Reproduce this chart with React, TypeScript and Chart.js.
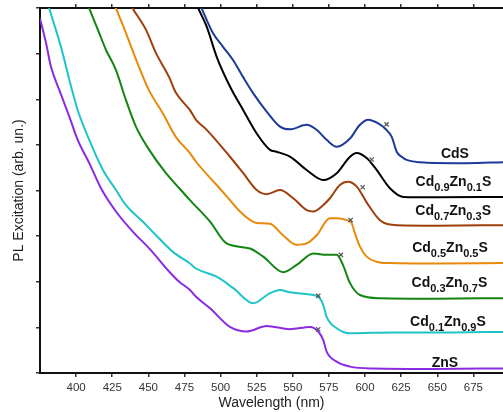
import React, { useEffect, useRef } from 'react';
import { Chart, registerables } from 'chart.js';

Chart.register(...registerables);

const FONT = '"Liberation Sans", Arial, Helvetica, sans-serif';

const xTicks = [400, 425, 450, 475, 500, 525, 550, 575, 600, 625, 650, 675];
const yTicks = [0, 1, 2, 3, 4, 5, 6, 7, 8];
const xMin = 375;
const xMax = 695.5;

// CdS
const cdsWl = [482, 486.9, 494.7, 501.7, 508.6, 515.5, 522.4, 531.9, 541.1, 548.0, 559.6, 566.5, 573.4, 580.4, 589.6, 596.5, 602.2, 609.1, 613.8, 618.4, 621.9, 625.3, 628.8, 642.6, 670, 696];
const cdsVal = [8.35, 7.99, 7.45, 7.15, 6.86, 6.49, 6.14, 5.73, 5.40, 5.34, 5.44, 5.33, 5.11, 4.96, 5.14, 5.44, 5.55, 5.47, 5.36, 5.18, 4.85, 4.74, 4.67, 4.61, 4.60, 4.62];

// Cd0.9Zn0.1S
const cd09Wl = [480, 484.6, 490.4, 497.3, 506.5, 515.7, 525.0, 534.2, 538.8, 548.0, 559.6, 571.1, 580.4, 589.6, 594.2, 601.1, 608.0, 617.2, 626.5, 650, 696];
const cd09Val = [8.35, 7.99, 7.59, 6.93, 6.28, 5.76, 5.25, 4.89, 4.85, 4.74, 4.45, 4.23, 4.38, 4.74, 4.82, 4.71, 4.45, 4.05, 3.86, 3.85, 3.86];

// Cd0.7Zn0.3S
const cd07Wl = [434, 439.2, 448.4, 455.3, 464.3, 469.1, 478.8, 483.0, 490.4, 506.5, 515.7, 525.0, 531.9, 541.1, 550.3, 559.6, 564.2, 571.1, 575.7, 582.6, 588.2, 594.4, 601.3, 610.3, 622.1, 650, 696];
const cd07Val = [8.3, 7.99, 7.52, 7.01, 6.49, 6.14, 5.76, 5.55, 5.33, 4.74, 4.38, 4.01, 3.92, 4.01, 3.83, 3.57, 3.54, 3.68, 3.83, 4.12, 4.19, 4.08, 3.73, 3.35, 3.24, 3.23, 3.24];

// Cd0.5Zn0.5S
const cd05Wl = [422, 427.6, 434.5, 443.5, 450.4, 459.9, 469.1, 478.8, 483.0, 497.3, 506.5, 513.4, 525.0, 534.2, 543.2, 552.7, 559.6, 566.5, 575.7, 580.4, 587.3, 590.8, 593.0, 596.5, 601.1, 608.0, 617.2, 650, 696];
const cd05Val = [8.4, 7.99, 7.45, 6.71, 6.20, 5.70, 5.17, 4.82, 4.63, 4.12, 3.79, 3.54, 3.29, 3.27, 3.02, 2.81, 2.84, 3.02, 3.39, 3.39, 3.35, 3.28, 3.06, 2.77, 2.55, 2.44, 2.41, 2.40, 2.41];

// Cd0.3Zn0.7S
const cd03Wl = [402, 409.1, 416.0, 420.7, 427.6, 434.5, 441.4, 450.6, 462.2, 471.4, 478.8, 492.7, 504.2, 520.3, 529.5, 543.4, 552.7, 564.2, 573.4, 580.4, 584.7, 589.6, 596.5, 610.3, 650, 696];
const cd03Val = [8.55, 7.99, 7.45, 7.08, 6.64, 5.98, 5.40, 4.89, 4.38, 4.05, 3.79, 3.32, 2.84, 2.73, 2.55, 2.21, 2.37, 2.62, 2.59, 2.59, 2.37, 1.97, 1.71, 1.64, 1.63, 1.64];

// Cd0.1Zn0.9S
const cd01Wl = [375, 381.4, 389.5, 396.5, 401.1, 409.1, 418.4, 427.6, 434.5, 446.1, 455.3, 466.8, 478.8, 483.0, 497.3, 508.8, 522.6, 534.2, 541.1, 548.0, 561.9, 567.6, 571.1, 573.4, 580.4, 589.6, 620, 660, 696];
const cd01Val = [8.67, 7.99, 7.15, 6.28, 5.76, 5.11, 4.46, 4.01, 3.68, 3.32, 3.02, 2.66, 2.40, 2.29, 2.11, 1.86, 1.53, 1.75, 1.82, 1.77, 1.72, 1.67, 1.49, 1.23, 0.98, 0.87, 0.89, 0.89, 0.90];

// ZnS
const znsWl = [375, 379.2, 382.6, 388.4, 395.3, 401.1, 409.1, 417.2, 427.6, 439.2, 450.6, 464.5, 471.4, 478.8, 483.0, 492.7, 506.5, 518.1, 531.9, 548.0, 561.9, 567.6, 571.1, 573.4, 580.4, 589.6, 605.7, 650, 696];
const znsVal = [7.77, 7.23, 6.71, 6.20, 5.62, 5.11, 4.60, 4.05, 3.54, 3.10, 2.73, 2.22, 2.00, 1.82, 1.67, 1.42, 1.01, 0.91, 1.03, 0.96, 1.01, 0.91, 0.72, 0.47, 0.25, 0.14, 0.10, 0.09, 0.10];

// "x" markers
const markWl = [614.9, 604.6, 598.4, 590.0, 583.3, 567.6, 567.6];
const markVal = [5.45, 4.68, 4.07, 3.35, 2.59, 1.69, 0.96];

// Series labels
const labelText = ['CdS', 'Cd_{0.9}Zn_{0.1}S', 'Cd_{0.7}Zn_{0.3}S', 'Cd_{0.5}Zn_{0.5}S', 'Cd_{0.3}Zn_{0.7}S', 'Cd_{0.1}Zn_{0.9}S', 'ZnS'];
const labelWl = [662.2, 661.2, 661.0, 658.8, 658.4, 657.4, 655.3];
const labelVal = [4.83, 4.20, 3.58, 2.77, 2.00, 1.14, 0.245];

const seriesNames = ['CdS', 'Cd0.9Zn0.1S', 'Cd0.7Zn0.3S', 'Cd0.5Zn0.5S', 'Cd0.3Zn0.7S', 'Cd0.1Zn0.9S', 'ZnS'];
const seriesWl = [cdsWl, cd09Wl, cd07Wl, cd05Wl, cd03Wl, cd01Wl, znsWl];
const seriesVal = [cdsVal, cd09Val, cd07Val, cd05Val, cd03Val, cd01Val, znsVal];
const seriesColors = ['#1c3a97', '#000000', '#9e3f0c', '#e8890c', '#128512', '#1ec4c6', '#8a2be2'];

const MAIN_FONT = `bold 14px ${FONT}`;
const SUB_FONT = `bold 11px ${FONT}`;

function parseLabel(s: string) {
  const parts: { t: string; sub: boolean }[] = [];
  const re = /_\{([^}]*)\}|([^_]+)/g;
  let m: RegExpExecArray | null;
  while ((m = re.exec(s)) !== null) {
    if (m[1] !== undefined) parts.push({ t: m[1], sub: true });
    else parts.push({ t: m[2], sub: false });
  }
  return parts;
}

const labelPlugin = {
  id: 'seriesLabels',
  afterDatasetsDraw(chart: any) {
    const { ctx } = chart;
    const x = chart.scales.x;
    const y = chart.scales.y;
    ctx.save();
    ctx.fillStyle = '#111';
    ctx.textBaseline = 'alphabetic';
    ctx.textAlign = 'left';
    labelText.forEach((txt, i) => {
      const parts = parseLabel(txt);
      let total = 0;
      const widths = parts.map((p) => {
        ctx.font = p.sub ? SUB_FONT : MAIN_FONT;
        const w = ctx.measureText(p.t).width;
        total += w;
        return w;
      });
      let cx = x.getPixelForValue(labelWl[i]) - total / 2;
      const base = y.getPixelForValue(labelVal[i]) + 5;
      parts.forEach((p, k) => {
        ctx.font = p.sub ? SUB_FONT : MAIN_FONT;
        ctx.fillText(p.t, cx, p.sub ? base + 5 : base);
        cx += widths[k];
      });
    });
    ctx.restore();
  },
};

export default function App() {
  const ref = useRef<HTMLCanvasElement | null>(null);

  useEffect(() => {
    if (!ref.current) return;
    const gridCfg = {
      display: true,
      drawOnChartArea: false,
      drawTicks: true,
      tickLength: 4,
      color: '#333',
      lineWidth: 1.5,
    };
    const borderCfg = { display: true, color: '#111', width: 2 };

    const lineSets = seriesNames.map((name, i) => ({
      type: 'line' as const,
      label: name,
      data: seriesWl[i].map((w, k) => ({ x: w, y: seriesVal[i][k] })),
      borderColor: seriesColors[i],
      backgroundColor: seriesColors[i],
      borderWidth: 2,
      pointRadius: 0,
      fill: false,
      cubicInterpolationMode: 'monotone' as const,
      xAxisID: 'x',
      yAxisID: 'y',
    }));

    const markerSet = {
      type: 'line' as const,
      label: 'markers',
      data: markWl.map((w, k) => ({ x: w, y: markVal[k] })),
      showLine: false,
      pointStyle: 'crossRot' as const,
      pointRadius: 3,
      borderColor: '#555',
      backgroundColor: '#555',
      pointBorderWidth: 1.2,
      borderWidth: 1.2,
      xAxisID: 'x',
      yAxisID: 'y',
    };

    const zeroPad = (s: any) => {
      s.paddingLeft = 0;
      s.paddingRight = 0;
      s.paddingTop = 0;
      s.paddingBottom = 0;
    };

    const chart = new Chart(ref.current, {
      type: 'line',
      data: { datasets: [markerSet, ...lineSets] as any },
      options: {
        responsive: false,
        animation: false,
        maintainAspectRatio: false,
        layout: { padding: 0, autoPadding: false },
        plugins: { legend: { display: false }, tooltip: { enabled: false } },
        scales: {
          x: {
            type: 'linear',
            position: 'bottom',
            min: xMin,
            max: xMax,
            afterBuildTicks: (s: any) => {
              s.ticks = xTicks.map((v) => ({ value: v }));
            },
            afterFit: (s: any) => {
              s.height = 39;
              zeroPad(s);
            },
            ticks: {
              color: '#333',
              font: { family: FONT, size: 11.5 },
              padding: 4,
              maxRotation: 0,
              autoSkip: false,
            },
            grid: gridCfg,
            border: borderCfg,
            title: {
              display: true,
              text: 'Wavelength (nm)',
              color: '#222',
              font: { family: FONT, size: 14 },
              padding: { top: 0, bottom: 0 },
            },
          },
          x2: {
            type: 'linear',
            position: 'top',
            min: xMin,
            max: xMax,
            afterBuildTicks: (s: any) => {
              s.ticks = xTicks.map((v) => ({ value: v }));
            },
            afterFit: (s: any) => {
              s.height = 8;
              zeroPad(s);
            },
            ticks: { display: false },
            grid: gridCfg,
            border: borderCfg,
          },
          y: {
            type: 'linear',
            position: 'left',
            min: 0,
            max: 8,
            afterBuildTicks: (s: any) => {
              s.ticks = yTicks.map((v) => ({ value: v }));
            },
            afterFit: (s: any) => {
              s.width = 40;
              zeroPad(s);
            },
            ticks: { display: false },
            grid: gridCfg,
            border: borderCfg,
            title: {
              display: true,
              text: 'PL Excitation (arb. un.)',
              color: '#222',
              font: { family: FONT, size: 14 },
              padding: { top: 10.5, bottom: 0 },
            },
          },
        },
      } as any,
      plugins: [labelPlugin],
    });
    return () => chart.destroy();
  }, []);

  return (
    <div style={{ position: 'absolute', left: 0, top: 0, width: 503, height: 412, background: '#fff' }}>
      <canvas ref={ref} width={503} height={412} style={{ display: 'block', width: 503, height: 412 }} />
    </div>
  );
}
